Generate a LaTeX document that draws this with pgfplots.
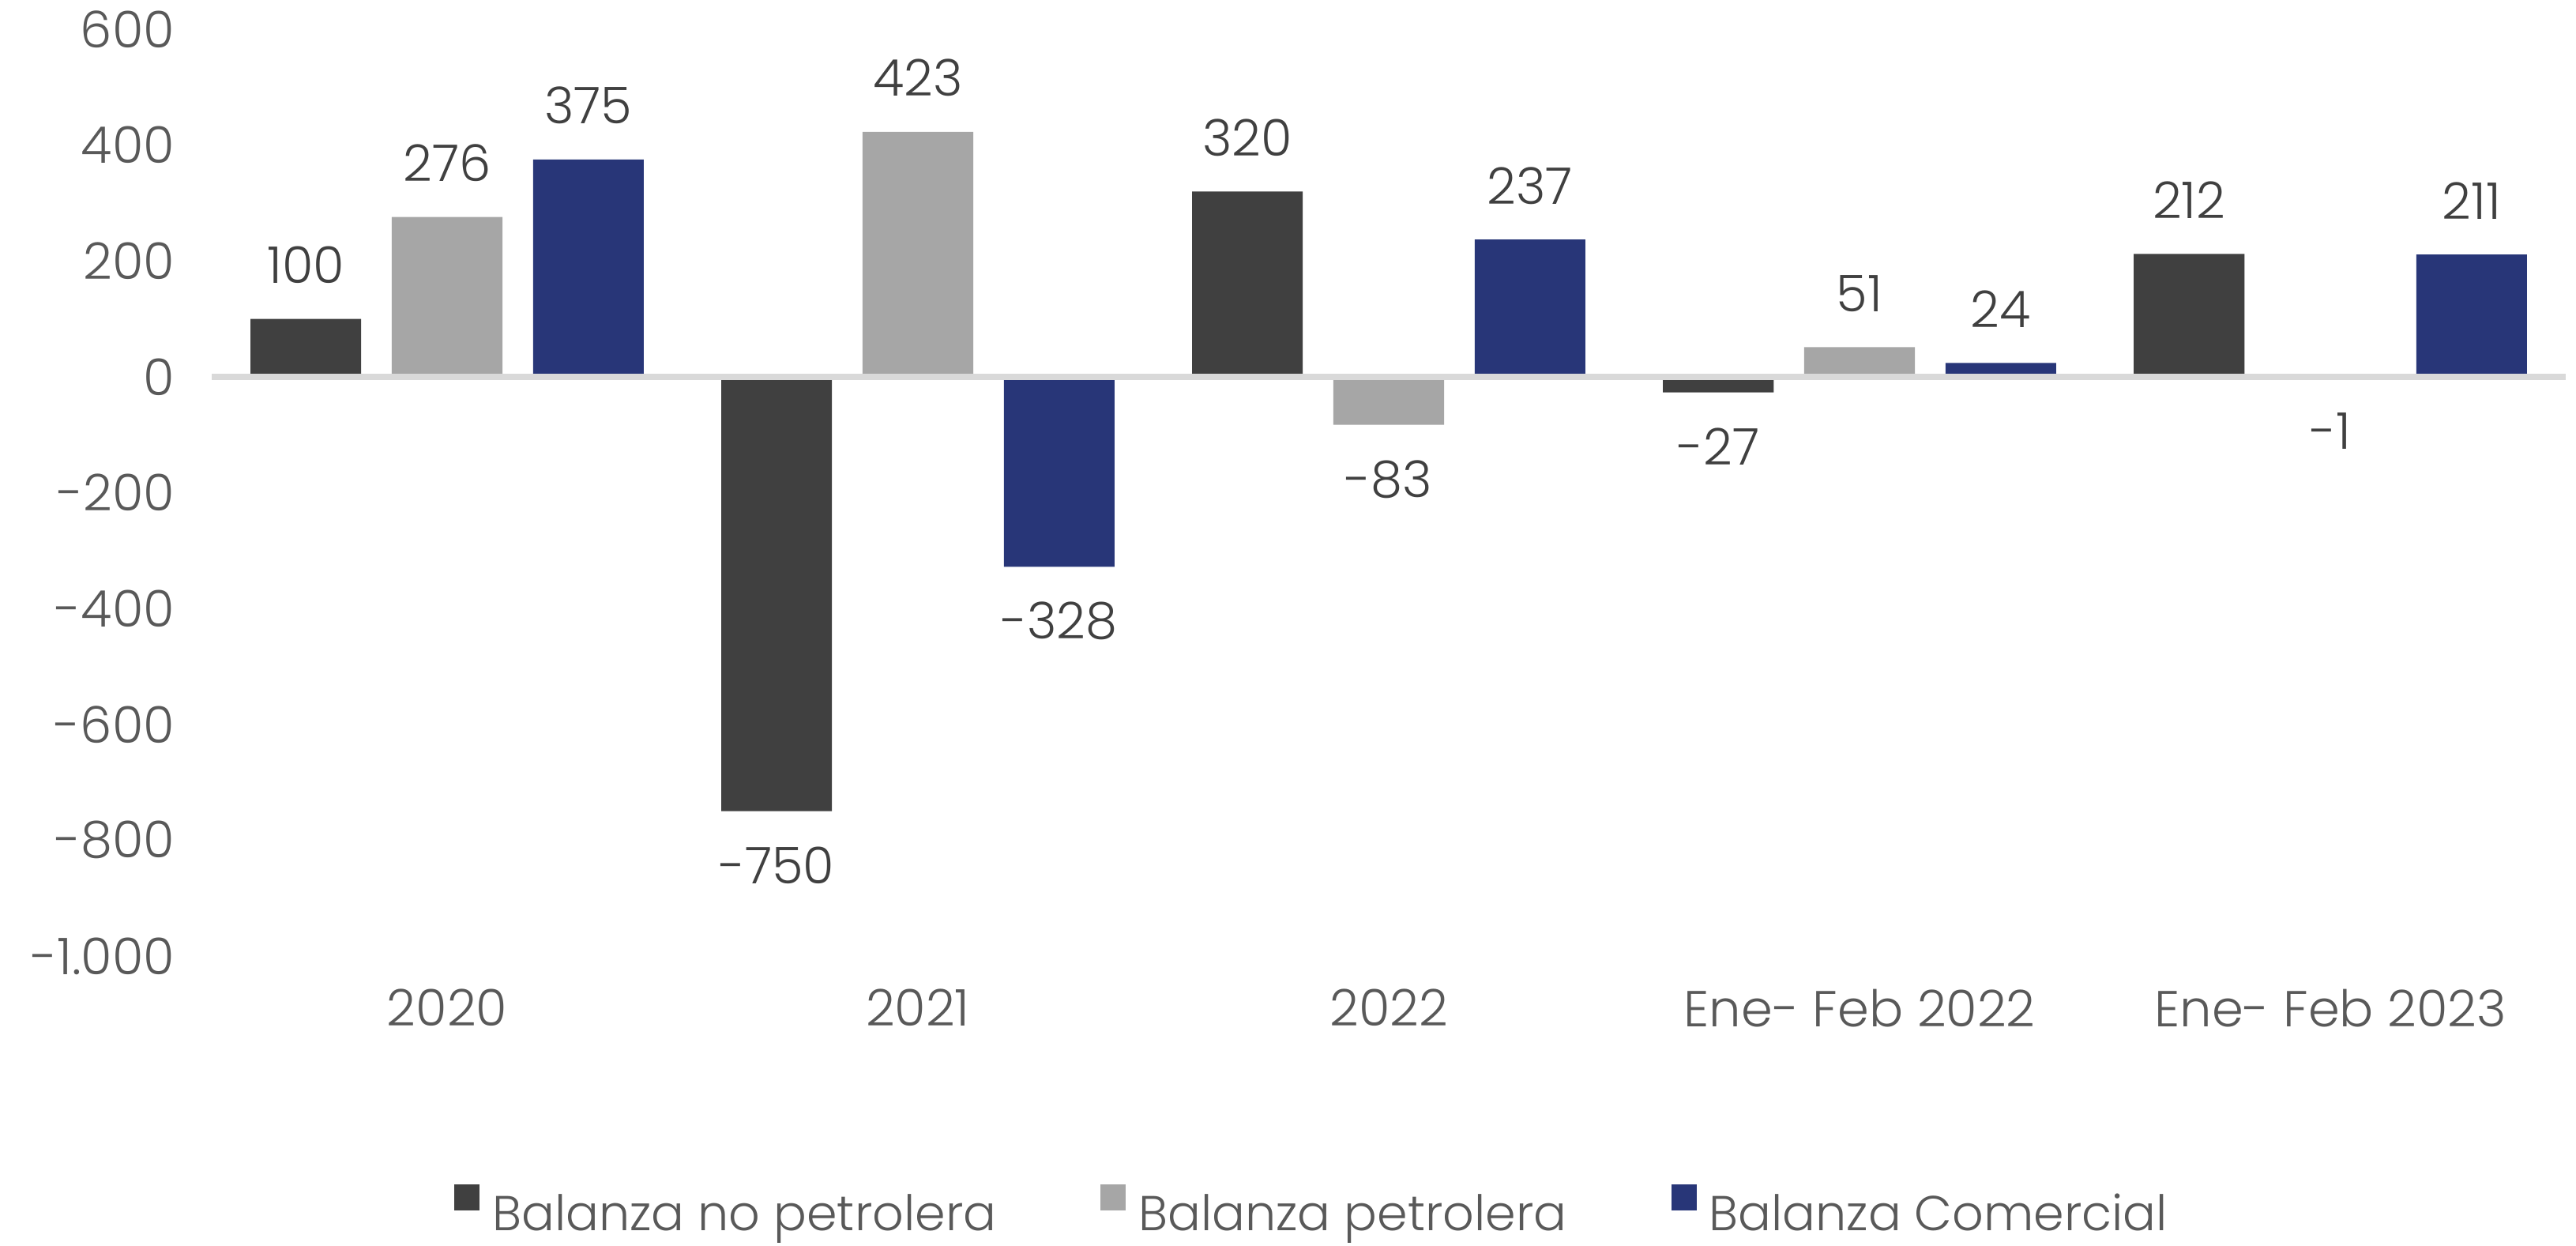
\documentclass[border=0pt]{standalone}
\usepackage{pgfplots}
\pgfplotsset{compat=1.18}
\usepackage{fontspec}
\setmainfont{Poppins}[UprightFont={* Light}]
\definecolor{cdark}{RGB}{64,64,64}
\definecolor{clight}{RGB}{166,166,166}
\definecolor{cnavy}{RGB}{40,54,120}
\definecolor{labelgray}{RGB}{89,89,89}
\definecolor{datagray}{RGB}{64,64,64}
\definecolor{zeroline}{RGB}{217,217,217}
\begin{document}
\begin{tikzpicture}[x=1pt,y=1pt]
\useasboundingbox (0,0) rectangle (815.25,394);
\begin{axis}[
  at={(67pt,91.5pt)}, anchor=south west,
  scale only axis, width=745pt, height=293.25pt,
  xmin=-0.5, xmax=4.5, ymin=-1000, ymax=600,
  axis line style={draw=none},
  major tick length=0pt,
  xtick={0,1,2,3,4},
  xticklabels={2020,2021,2022,Ene- Feb 2022,Ene- Feb 2023},
  ytick={-1000,-800,-600,-400,-200,0,200,400,600},
  yticklabels={-1.000,-800,-600,-400,-200,0,200,400,600},
  tick label style={font=\fontsize{16}{18}\selectfont, text=labelgray},
  xticklabel style={yshift=-7pt},
  yticklabel style={xshift=-8.2pt},
  clip=false,
  ybar,
  bar width=0.235,
  nodes near coords={\pgfmathprintnumber[assume math mode=true,int detect]{\pgfplotspointmeta}},
  nodes near coords align=vertical,
  every node near coord/.append style={font=\fontsize{16}{18}\selectfont, text=datagray, inner ysep=11pt, inner xsep=1pt},
  legend columns=3,
  legend image code/.code={\fill[#1] (0pt,1.3pt) rectangle (8pt,9.6pt);},
  legend style={draw=none, fill=none, at={(0.467,-0.2737)}, anchor=center,
    font=\fontsize{15.5}{18}\selectfont, text=labelgray,
    nodes={inner sep=0pt},
    /tikz/every even column/.append style={column sep=33pt},
    /tikz/every odd column/.append style={column sep=4pt}},
]
\addplot[fill=cdark, draw=none, bar shift=-0.30] coordinates {(0,100) (1,-750) (2,320) (3,-27) (4,212)};
\addlegendentry{Balanza no petrolera}
\addplot[fill=clight, draw=none, bar shift=0] coordinates {(0,276) (1,423) (2,-83) (3,51) (4,-1)};
\addlegendentry{Balanza petrolera}
\addplot[fill=cnavy, draw=none, bar shift=0.30] coordinates {(0,375) (1,-328) (2,237) (3,24) (4,211)};
\addlegendentry{Balanza Comercial}
\draw[color=zeroline, line width=2pt] (axis cs:-0.5,0) -- (axis cs:4.5,0);
\end{axis}
\end{tikzpicture}
\end{document}
